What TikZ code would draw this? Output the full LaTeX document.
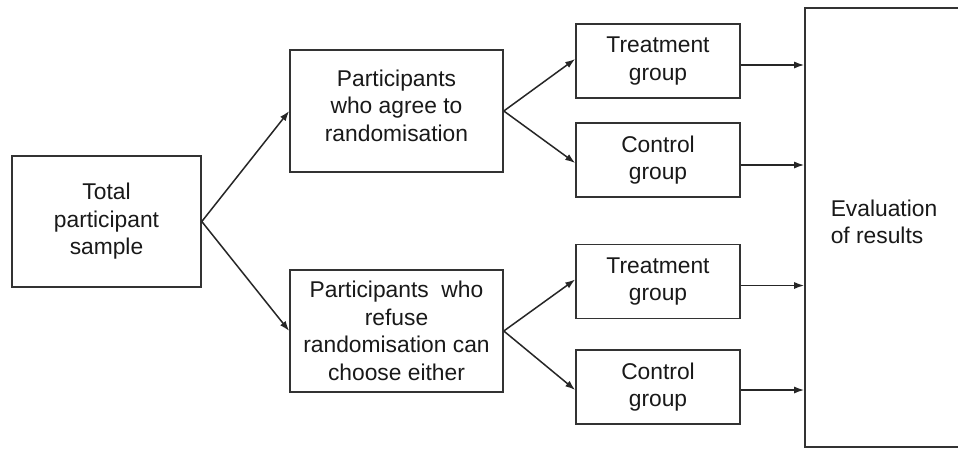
\documentclass[tikz,border=0pt]{standalone}
\usepackage{fontspec}
\setmainfont{Liberation Sans}
\usetikzlibrary{arrows.meta}
\begin{document}
\begin{tikzpicture}[x=1pt,y=-1pt,
  box/.style={draw=black!80,line width=1.6pt,fill=white,inner sep=0pt,align=center,
    font=\fontsize{22.8}{27.5}\selectfont,text=black!90},
  conn/.style={draw=black!85,line width=1.5pt,-{Latex[length=10pt,width=7pt]}}]
\useasboundingbox[fill=white] (0,0) rectangle (958,448);
\clip (0,0) rectangle (958,448);
\node[box,minimum width=189pt,minimum height=131pt] (tot) at (106.5,221.5) {Total\\participant\\sample};
\node[box,minimum width=213pt,minimum height=122pt] (agr) at (396.5,111) {Participants\\who agree to\\randomisation\\[-16pt]};
\node[box,minimum width=213pt,minimum height=122pt] (ref) at (396.5,331) {Participants\ \ who\\refuse\\randomisation can\\choose either};
\node[box,minimum width=164pt,minimum height=74pt] (t1) at (658,61) {Treatment\\group};
\node[box,minimum width=164pt,minimum height=74pt] (c1) at (658,160) {Control\\group};
\node[box,minimum width=164pt,minimum height=74pt] (t2) at (658,281.5) {Treatment\\group};
\node[box,minimum width=164pt,minimum height=74pt] (c2) at (658,387) {Control\\group};
\node[box,minimum width=158pt,minimum height=439pt,align=left] (ev) at (884,227.5) {Evaluation\\of results\\[-16pt]};
\draw[conn] (tot.east) -- (agr.west);
\draw[conn] (tot.east) -- (ref.west);
\draw[conn] (agr.east) -- ([yshift=2pt]t1.west);
\draw[conn] (agr.east) -- ([yshift=-3pt]c1.west);
\draw[conn] (ref.east) -- ([yshift=2pt]t2.west);
\draw[conn] (ref.east) -- ([yshift=-3pt]c2.west);
\draw[conn] ([yshift=-4pt]t1.east) -- ([yshift=-4pt]t1.east -| ev.west);
\draw[conn] ([yshift=-5pt]c1.east) -- ([yshift=-5pt]c1.east -| ev.west);
\draw[conn] ([yshift=-4pt]t2.east) -- ([yshift=-4pt]t2.east -| ev.west);
\draw[conn] ([yshift=-3pt]c2.east) -- ([yshift=-3pt]c2.east -| ev.west);
\end{tikzpicture}
\end{document}
